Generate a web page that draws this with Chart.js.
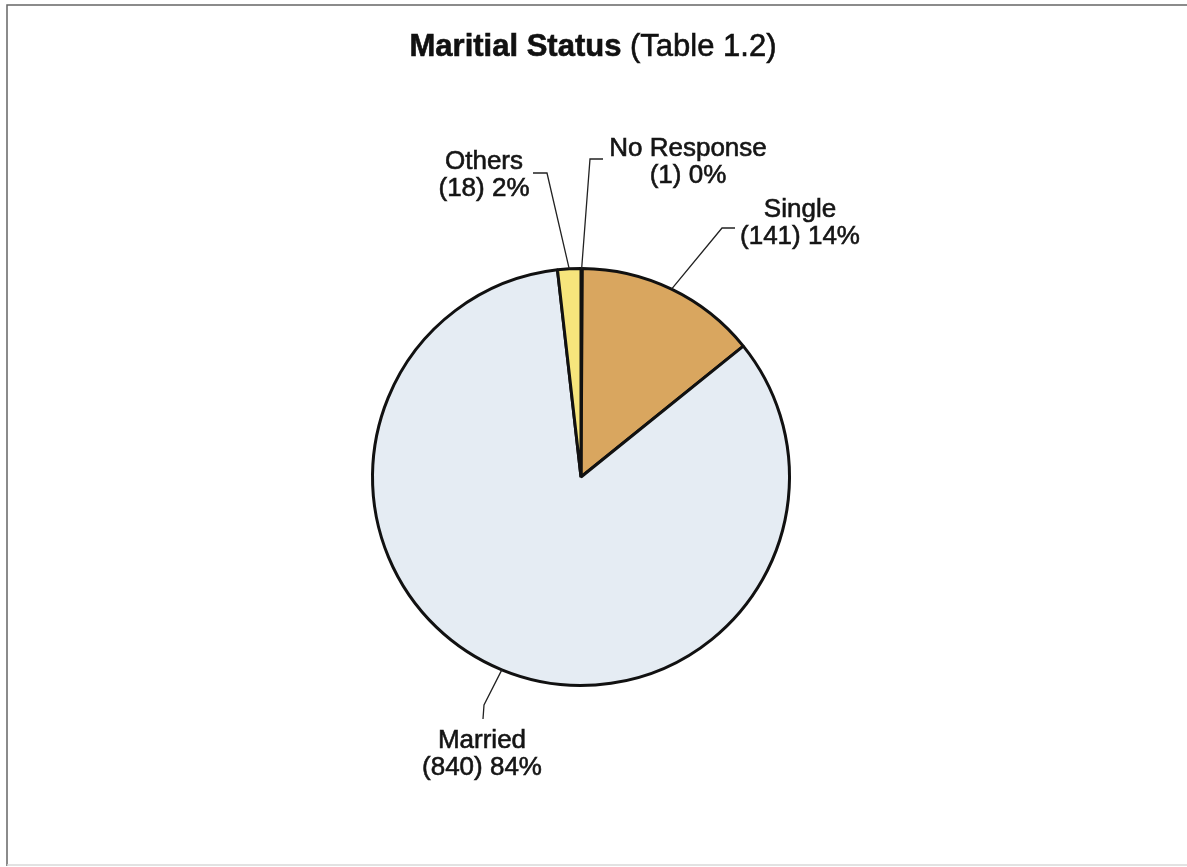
<!DOCTYPE html>
<html>
<head>
<meta charset="utf-8">
<title>Maritial Status</title>
<script src="https://cdn.jsdelivr.net/npm/chart.js@4/dist/chart.umd.min.js"></script>
<style>
  html, body { margin: 0; padding: 0; background: #fff; }
  #wrap { width: 1187px; height: 867px; }
</style>
</head>
<body>
<div id="wrap"><canvas id="chart_status"></canvas></div>
<script>
// dados da tabela 1.2
const categorias = ['No Response', 'Single', 'Married', 'Others'];
const valores = [1, 141, 840, 18];
const cores = ['#dfe7f0', '#d9a65f', '#e5ecf3', '#f6e57c'];

// onde fica cada rotulo: [x centro, y da primeira linha, cotovelo x, cotovelo y, fim x, fim y]
const posRotulos = [
  [688, 156, 590, 159, 603, 159],
  [800, 217, 722, 228, 735, 228],
  [482, 748, 484, 705, 483, 719],
  [484, 169, 547, 173, 533, 173]
];

const total = valores.reduce((a, b) => a + b, 0);

// texto um pouco mais encorpado
function escreve(ctx, txt, x, y) {
  ctx.fillText(txt, x, y);
  ctx.strokeText(txt, x, y);
}

// moldura, titulo e rotulos com linhas de chamada
const rotulosPlugin = {
  id: 'rotulos',
  beforeDraw(chart) {
    const ctx = chart.ctx;
    ctx.save();
    ctx.fillStyle = '#fff';
    ctx.fillRect(0, 0, chart.width, chart.height);
    ctx.strokeStyle = '#666';
    ctx.lineWidth = 1.5;
    ctx.beginPath();
    ctx.moveTo(7, 866);
    ctx.lineTo(7, 5);
    ctx.lineTo(1187, 5);
    ctx.stroke();
    ctx.strokeStyle = '#d8d8d8';
    ctx.beginPath();
    ctx.moveTo(7, 865);
    ctx.lineTo(1187, 865);
    ctx.stroke();
    ctx.restore();
  },
  afterDraw(chart) {
    const ctx = chart.ctx;
    ctx.save();

    // titulo: parte em negrito + parte normal
    const t1 = 'Maritial Status';
    const t2 = ' (Table 1.2)';
    ctx.fillStyle = '#111';
    ctx.strokeStyle = '#111';
    ctx.lineWidth = 0.6;
    ctx.textBaseline = 'alphabetic';
    ctx.font = 'bold 31px "Liberation Sans", Arial, sans-serif';
    const w1 = ctx.measureText(t1).width;
    ctx.font = '31px "Liberation Sans", Arial, sans-serif';
    const w2 = ctx.measureText(t2).width;
    const x0 = 593 - (w1 + w2) / 2;
    ctx.textAlign = 'left';
    ctx.font = 'bold 31px "Liberation Sans", Arial, sans-serif';
    escreve(ctx, t1, x0, 56);
    ctx.font = '31px "Liberation Sans", Arial, sans-serif';
    escreve(ctx, t2, x0 + w1, 56);

    const arcs = chart.getDatasetMeta(0).data;
    arcs.forEach((arc, i) => {
      const p = posRotulos[i];
      const meio = (arc.startAngle + arc.endAngle) / 2;
      const sx = arc.x + Math.cos(meio) * arc.outerRadius;
      const sy = arc.y + Math.sin(meio) * arc.outerRadius;

      ctx.strokeStyle = '#222';
      ctx.lineWidth = 1.3;
      ctx.beginPath();
      ctx.moveTo(sx, sy);
      ctx.lineTo(p[2], p[3]);
      ctx.lineTo(p[4], p[5]);
      ctx.stroke();

      const pct = Math.round(valores[i] / total * 100);
      ctx.fillStyle = '#151515';
      ctx.strokeStyle = '#151515';
      ctx.lineWidth = 0.6;
      ctx.textAlign = 'center';
      ctx.font = '26px "Liberation Sans", Arial, sans-serif';
      escreve(ctx, categorias[i], p[0], p[1]);
      escreve(ctx, '(' + valores[i] + ') ' + pct + '%', p[0], p[1] + 27);
    });
    ctx.restore();
  }
};

const pizza = document.getElementById('chart_status');

new Chart(pizza, {
  type: 'pie',
  data: {
    labels: categorias,
    datasets: [{
      data: valores,
      backgroundColor: cores,
      borderColor: '#111',
      borderWidth: 3
    }]
  },
  options: {
    responsive: true,
    maintainAspectRatio: false,
    animation: false,
    layout: {
      padding: { top: 267, bottom: 180, left: 0, right: 25 }
    },
    plugins: {
      legend: { display: false },
      tooltip: { enabled: false },
      title: { display: false }
    }
  },
  plugins: [rotulosPlugin]
});
</script>
</body>
</html>
